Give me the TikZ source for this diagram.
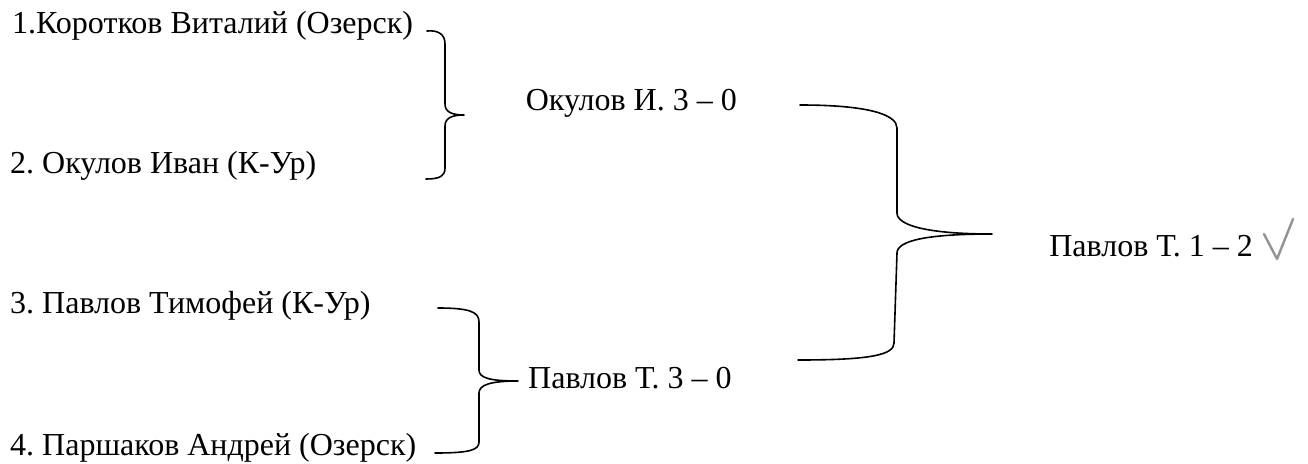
\documentclass[tikz,border=0pt]{standalone}
\usepackage{fontspec}
\setmainfont{Liberation Serif}
\frenchspacing
\begin{document}
\begin{tikzpicture}[x=1pt,y=-1pt,
  lbl/.style={inner sep=0pt,font=\fontsize{32}{38}\selectfont},
  brace/.style={line width=1.6pt,line cap=round,line join=round}]
\useasboundingbox (0,0) rectangle (1308,463);
\node[lbl,anchor=base west] (p1) at (12,33) {1.Коротков Виталий (Озерск)};
\node[lbl,anchor=base west] (p2) at (10,173) {2. Окулов Иван (К-Ур)};
\node[lbl,anchor=base west] (p3) at (10,313) {3. Павлов Тимофей (К-Ур)};
\node[lbl,anchor=base west] (p4) at (10,455) {4. Паршаков Андрей (Озерск)};
\node[lbl,anchor=base east] (w1) at (737,110) {Окулов И. 3 -- 0};
\node[lbl,anchor=base west] (w2) at (528,388) {Павлов Т. 3 -- 0};
\node[lbl,anchor=base east] (f) at (1253,256) {Павлов Т. 1 -- 2};
\draw[brace] (427,31) .. controls (438,30) and (445,34) .. (445,44) -- (445,104) .. controls (445,112) and (452,115) .. (464,115) .. controls (452,115) and (445,118) .. (445,126) -- (445,168) .. controls (445,176) and (440,179) .. (426,179);
\draw[brace] (438,308) .. controls (470,308) and (479,312) .. (479,322) -- (479,370) .. controls (479,378) and (490,381) .. (518,381) .. controls (490,381) and (479,385) .. (479,393) -- (479,442) .. controls (479,450) and (470,453) .. (435,453);
\draw[brace] (800,105) .. controls (870,105) and (897,115) .. (897,128) -- (897,213) .. controls (897,226) and (930,234) .. (992,234) .. controls (930,234) and (897,240) .. (897,253) -- (894,343) .. controls (894,355) and (870,360) .. (798,360);
\draw[line width=2.4pt,color=gray!85,line cap=round,line join=round] (1264,234) -- (1277,259) -- (1293,219);
\end{tikzpicture}
\end{document}
